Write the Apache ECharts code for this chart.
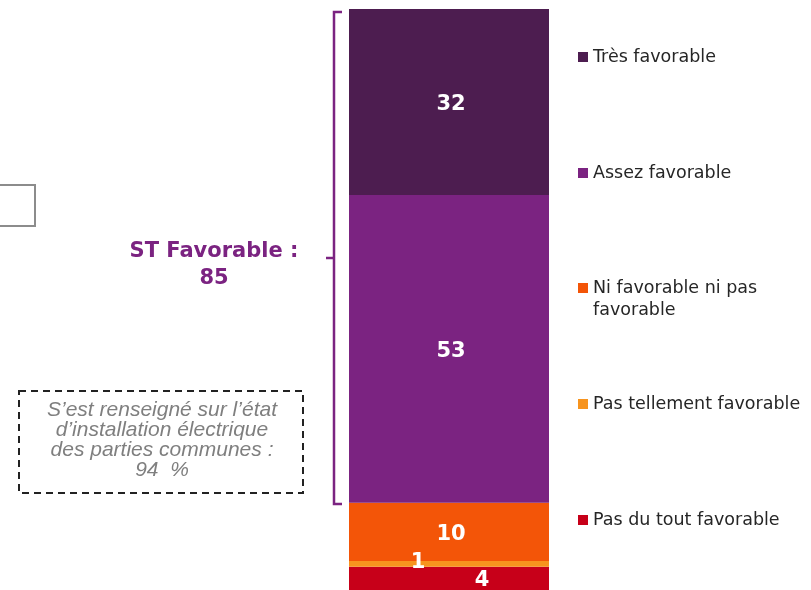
<!DOCTYPE html>
<html><head><meta charset="utf-8">
<script src="https://cdn.jsdelivr.net/npm/echarts@6/dist/echarts.min.js"></script>
<style>html,body{margin:0;padding:0;background:#fff}#c{width:811px;height:590px}</style>
</head><body><div id="c"></div>
<script>
// Data (bottom to top of the stack)
const categories = ['Total'];
const seriesNames = ['Pas du tout favorable', 'Pas tellement favorable', 'Ni favorable ni pas favorable', 'Assez favorable', 'Très favorable'];
const seriesValues = [4, 1, 10, 53, 32];
const legendOrder = ['Très favorable', 'Assez favorable', 'Ni favorable ni pas favorable', 'Pas tellement favorable', 'Pas du tout favorable'];
const favorableGroup = ['Très favorable', 'Assez favorable'];
const noteLines = ['S\u2019est renseigné sur l\u2019état', 'd\u2019installation électrique', 'des parties communes :', '94  %'];

// Styles
const colors = ['#C70019', '#F7941E', '#F35508', '#7B2381', '#4D1D50'];
const labelOffsets = [[33, 2], [-31, -1], [2, 3], [2, 3], [2, 3]];
const legendCenters = [57, 173, 288, 404, 520];

const stFav = favorableGroup.reduce((s, n) => s + seriesValues[seriesNames.indexOf(n)], 0);

const series = seriesNames.map((name, i) => ({
  name: name,
  type: 'bar',
  stack: 'total',
  barWidth: '100%',
  data: [seriesValues[i]],
  itemStyle: { color: colors[i] },
  label: {
    show: true, position: 'inside', color: '#fff', fontWeight: 'bold',
    fontSize: 21, fontFamily: 'DejaVu Sans', offset: labelOffsets[i],
    formatter: p => String(p.value)
  },
  emphasis: { disabled: true }
}));

const legends = legendOrder.map((name, i) => ({
  data: [name], orient: 'vertical', left: 578, top: legendCenters[i] - 10, padding: 0,
  itemWidth: 10, itemHeight: 10, icon: 'rect', selectedMode: false,
  textStyle: { fontFamily: 'DejaVu Sans', fontSize: 17.5, color: '#262626', lineHeight: 20 },
  formatter: n => n === 'Ni favorable ni pas favorable' ? 'Ni favorable ni pas' : n
}));

const chart = echarts.init(document.getElementById('c'), null, { renderer: 'canvas' });
chart.setOption({
  animation: false,
  backgroundColor: '#fff',
  grid: { left: 349, width: 200, top: 9, bottom: -3, containLabel: false },
  xAxis: { type: 'category', data: categories, show: false },
  yAxis: { type: 'value', min: 0, max: 100, show: false },
  legend: legends,
  series: series,
  graphic: [
    { type: 'text', x: 593, y: 310, style: { text: 'favorable', fontFamily: 'DejaVu Sans', fontSize: 17.5, fill: '#262626', verticalAlign: 'middle' } },
    { type: 'polyline', shape: { points: [[342, 12], [334, 12], [334, 504], [342, 504]] }, style: { stroke: '#7B2381', lineWidth: 2.5, fill: null } },
    { type: 'line', shape: { x1: 326, y1: 258, x2: 334, y2: 258 }, style: { stroke: '#7B2381', lineWidth: 2.5 } },
    { type: 'text', x: 214, y: 265, style: { text: 'ST Favorable :\n' + stFav, fontFamily: 'DejaVu Sans', fontWeight: 'bold', fontSize: 21, fill: '#7B2381', align: 'center', verticalAlign: 'middle', lineHeight: 27 } },
    { type: 'rect', shape: { x: -5, y: 185, width: 40, height: 41 }, style: { stroke: '#8c8c8c', lineWidth: 2, fill: null } },
    { type: 'rect', shape: { x: 19, y: 391, width: 284, height: 102 }, style: { stroke: '#222', lineWidth: 2, lineDash: [7, 5], fill: null } },
    { type: 'text', x: 162, y: 440, style: { text: noteLines.join('\n'), fontFamily: 'Liberation Sans', fontStyle: 'italic', fontSize: 21, fill: '#7f7f7f', align: 'center', verticalAlign: 'middle', lineHeight: 20 } }
  ]
});
</script>
</body></html>
